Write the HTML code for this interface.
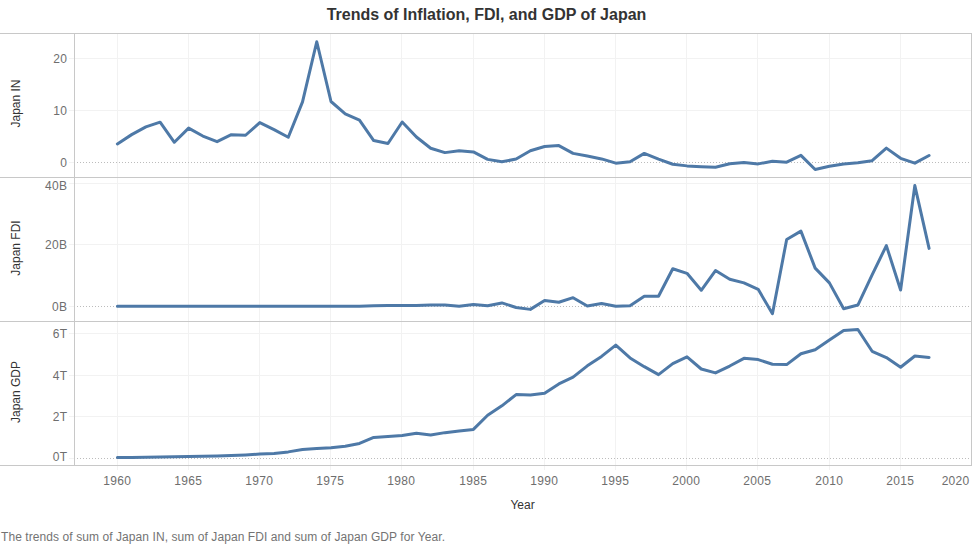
<!DOCTYPE html>
<html><head><meta charset="utf-8"><style>
html,body{margin:0;padding:0;background:#fff;width:973px;height:546px;overflow:hidden}
svg{display:block}
text{font-family:"Liberation Sans",sans-serif}
.tk{font-size:12px;fill:#6e6e6e;letter-spacing:0.3px}
.at{font-size:12px;fill:#333333}
.ttl{font-size:16px;font-weight:bold;fill:#333333}
.cap{font-size:12px;fill:#737373}
</style></head><body>
<svg width="973" height="546" viewBox="0 0 973 546">
<text x="486.5" y="19.5" text-anchor="middle" class="ttl">Trends of Inflation, FDI, and GDP of Japan</text>
<line x1="117.5" y1="33" x2="117.5" y2="470" stroke="#f2f2f2" stroke-width="1"/>
<line x1="188.5" y1="33" x2="188.5" y2="470" stroke="#f2f2f2" stroke-width="1"/>
<line x1="259.5" y1="33" x2="259.5" y2="470" stroke="#f2f2f2" stroke-width="1"/>
<line x1="330.5" y1="33" x2="330.5" y2="470" stroke="#f2f2f2" stroke-width="1"/>
<line x1="401.5" y1="33" x2="401.5" y2="470" stroke="#f2f2f2" stroke-width="1"/>
<line x1="473.5" y1="33" x2="473.5" y2="470" stroke="#f2f2f2" stroke-width="1"/>
<line x1="544.5" y1="33" x2="544.5" y2="470" stroke="#f2f2f2" stroke-width="1"/>
<line x1="615.5" y1="33" x2="615.5" y2="470" stroke="#f2f2f2" stroke-width="1"/>
<line x1="686.5" y1="33" x2="686.5" y2="470" stroke="#f2f2f2" stroke-width="1"/>
<line x1="757.5" y1="33" x2="757.5" y2="470" stroke="#f2f2f2" stroke-width="1"/>
<line x1="829.5" y1="33" x2="829.5" y2="470" stroke="#f2f2f2" stroke-width="1"/>
<line x1="900.5" y1="33" x2="900.5" y2="470" stroke="#f2f2f2" stroke-width="1"/>
<line x1="69" y1="58.5" x2="971" y2="58.5" stroke="#f2f2f2" stroke-width="1"/>
<line x1="69" y1="110.5" x2="971" y2="110.5" stroke="#f2f2f2" stroke-width="1"/>
<line x1="69" y1="162.5" x2="74" y2="162.5" stroke="#f2f2f2" stroke-width="1"/>
<line x1="77" y1="162.5" x2="970" y2="162.5" stroke="#bcbcbc" stroke-width="1" stroke-dasharray="1 2"/>
<line x1="69" y1="183.5" x2="971" y2="183.5" stroke="#f2f2f2" stroke-width="1"/>
<line x1="69" y1="244.5" x2="971" y2="244.5" stroke="#f2f2f2" stroke-width="1"/>
<line x1="69" y1="306.5" x2="74" y2="306.5" stroke="#f2f2f2" stroke-width="1"/>
<line x1="77" y1="306.5" x2="970" y2="306.5" stroke="#bcbcbc" stroke-width="1" stroke-dasharray="1 2"/>
<line x1="69" y1="333.5" x2="971" y2="333.5" stroke="#f2f2f2" stroke-width="1"/>
<line x1="69" y1="375.5" x2="971" y2="375.5" stroke="#f2f2f2" stroke-width="1"/>
<line x1="69" y1="416.5" x2="971" y2="416.5" stroke="#f2f2f2" stroke-width="1"/>
<line x1="69" y1="458.5" x2="74" y2="458.5" stroke="#f2f2f2" stroke-width="1"/>
<line x1="77" y1="458.5" x2="970" y2="458.5" stroke="#bcbcbc" stroke-width="1" stroke-dasharray="1 2"/>
<line x1="0" y1="33.5" x2="972" y2="33.5" stroke="#c8c8c8" stroke-width="1"/>
<line x1="0" y1="177.5" x2="972" y2="177.5" stroke="#c8c8c8" stroke-width="1"/>
<line x1="0" y1="321.5" x2="972" y2="321.5" stroke="#c8c8c8" stroke-width="1"/>
<line x1="0" y1="465.5" x2="972" y2="465.5" stroke="#c8c8c8" stroke-width="1"/>
<line x1="74.5" y1="33" x2="74.5" y2="466" stroke="#c8c8c8" stroke-width="1"/>
<line x1="971.5" y1="33" x2="971.5" y2="466" stroke="#c8c8c8" stroke-width="1"/>
<path d="M117.40,143.94 L131.64,134.63 L145.88,126.93 L160.12,122.20 L174.36,142.27 L188.60,128.13 L202.84,136.03 L217.08,141.65 L231.32,134.63 L245.56,135.25 L259.80,122.56 L274.04,129.58 L288.28,137.23 L302.52,101.87 L316.76,41.76 L331.00,101.50 L345.24,113.78 L359.48,120.17 L373.72,140.56 L387.96,143.47 L402.20,122.04 L416.44,136.97 L430.68,148.20 L444.92,152.62 L459.16,150.70 L473.40,151.89 L487.64,159.38 L501.88,161.82 L516.12,159.07 L530.36,150.70 L544.60,146.48 L558.84,145.60 L573.08,153.35 L587.32,156.05 L601.56,158.91 L615.80,163.18 L630.04,161.77 L644.28,153.40 L658.52,159.07 L672.76,164.27 L687.00,165.88 L701.24,166.66 L715.48,167.18 L729.72,163.80 L743.96,162.55 L758.20,163.90 L772.44,161.25 L786.68,162.19 L800.92,155.32 L815.16,169.52 L829.40,166.24 L843.64,163.90 L857.88,162.76 L872.12,160.68 L886.36,148.15 L900.60,158.34 L914.84,163.18 L929.08,155.48" fill="none" stroke="#4e79a7" stroke-width="3" stroke-linejoin="round" stroke-linecap="round"/>
<path d="M117.40,306.30 L131.64,306.30 L145.88,306.30 L160.12,306.30 L174.36,306.30 L188.60,306.30 L202.84,306.30 L217.08,306.30 L231.32,306.30 L245.56,306.30 L259.80,306.30 L274.04,306.30 L288.28,306.30 L302.52,306.30 L316.76,306.30 L331.00,306.30 L345.24,306.30 L359.48,306.30 L373.72,305.84 L387.96,305.38 L402.20,305.38 L416.44,305.53 L430.68,304.91 L444.92,305.07 L459.16,306.15 L473.40,304.61 L487.64,305.68 L501.88,302.91 L516.12,307.53 L530.36,309.38 L544.60,300.45 L558.84,302.30 L573.08,297.68 L587.32,305.99 L601.56,303.53 L615.80,306.18 L630.04,305.68 L644.28,296.29 L658.52,296.29 L672.76,268.72 L687.00,273.34 L701.24,290.28 L715.48,270.57 L729.72,279.20 L743.96,282.89 L758.20,289.36 L772.44,313.69 L786.68,239.46 L800.92,231.15 L815.16,268.11 L829.40,282.89 L843.64,308.76 L857.88,305.07 L872.12,274.88 L886.36,245.62 L900.60,289.98 L914.84,185.56 L929.08,248.40" fill="none" stroke="#4e79a7" stroke-width="3" stroke-linejoin="round" stroke-linecap="round"/>
<path d="M117.40,457.58 L131.64,457.39 L145.88,457.24 L160.12,457.05 L174.36,456.80 L188.60,456.61 L202.84,456.30 L217.08,455.93 L231.32,455.45 L245.56,454.92 L259.80,454.08 L274.04,453.50 L288.28,451.89 L302.52,449.51 L316.76,448.52 L331.00,447.65 L345.24,446.31 L359.48,443.49 L373.72,437.42 L387.96,436.56 L402.20,435.51 L416.44,433.15 L430.68,434.90 L444.92,432.64 L459.16,431.08 L473.40,429.40 L487.64,415.26 L501.88,405.82 L516.12,394.61 L530.36,394.96 L544.60,393.34 L558.84,383.94 L573.08,377.20 L587.32,365.85 L601.56,356.43 L615.80,345.16 L630.04,357.96 L644.28,366.67 L658.52,374.62 L672.76,363.61 L687.00,356.84 L701.24,368.99 L715.48,372.91 L729.72,366.03 L743.96,358.35 L758.20,359.59 L772.44,364.27 L786.68,364.58 L800.92,353.71 L815.16,349.69 L829.40,339.94 L843.64,330.42 L857.88,329.47 L872.12,351.26 L886.36,357.61 L900.60,367.20 L914.84,356.02 L929.08,357.41" fill="none" stroke="#4e79a7" stroke-width="3" stroke-linejoin="round" stroke-linecap="round"/>
<text x="67.3" y="63" text-anchor="end" class="tk">20</text>
<text x="67.3" y="115" text-anchor="end" class="tk">10</text>
<text x="67.3" y="167" text-anchor="end" class="tk">0</text>
<text x="67.3" y="190" text-anchor="end" class="tk">40B</text>
<text x="67.3" y="249" text-anchor="end" class="tk">20B</text>
<text x="67.3" y="311" text-anchor="end" class="tk">0B</text>
<text x="67.3" y="338" text-anchor="end" class="tk">6T</text>
<text x="67.3" y="380" text-anchor="end" class="tk">4T</text>
<text x="67.3" y="421" text-anchor="end" class="tk">2T</text>
<text x="67.3" y="461" text-anchor="end" class="tk">0T</text>
<text x="117.2" y="485" text-anchor="middle" class="tk">1960</text>
<text x="188.2" y="485" text-anchor="middle" class="tk">1965</text>
<text x="259.2" y="485" text-anchor="middle" class="tk">1970</text>
<text x="330.2" y="485" text-anchor="middle" class="tk">1975</text>
<text x="401.2" y="485" text-anchor="middle" class="tk">1980</text>
<text x="473.2" y="485" text-anchor="middle" class="tk">1985</text>
<text x="544.2" y="485" text-anchor="middle" class="tk">1990</text>
<text x="615.2" y="485" text-anchor="middle" class="tk">1995</text>
<text x="686.2" y="485" text-anchor="middle" class="tk">2000</text>
<text x="757.2" y="485" text-anchor="middle" class="tk">2005</text>
<text x="829.2" y="485" text-anchor="middle" class="tk">2010</text>
<text x="900.2" y="485" text-anchor="middle" class="tk">2015</text>
<text x="955.6" y="485" text-anchor="middle" class="tk">2020</text>
<text transform="translate(20,103.5) rotate(-90)" text-anchor="middle" class="at">Japan IN</text>
<text transform="translate(20,248) rotate(-90)" text-anchor="middle" class="at">Japan FDI</text>
<text transform="translate(20,392) rotate(-90)" text-anchor="middle" class="at">Japan GDP</text>
<text x="522.5" y="509" text-anchor="middle" class="at">Year</text>
<text x="1" y="540.5" class="cap" textLength="444" lengthAdjust="spacing">The trends of sum of Japan IN, sum of Japan FDI and sum of Japan GDP for Year.</text>
</svg>
</body></html>
